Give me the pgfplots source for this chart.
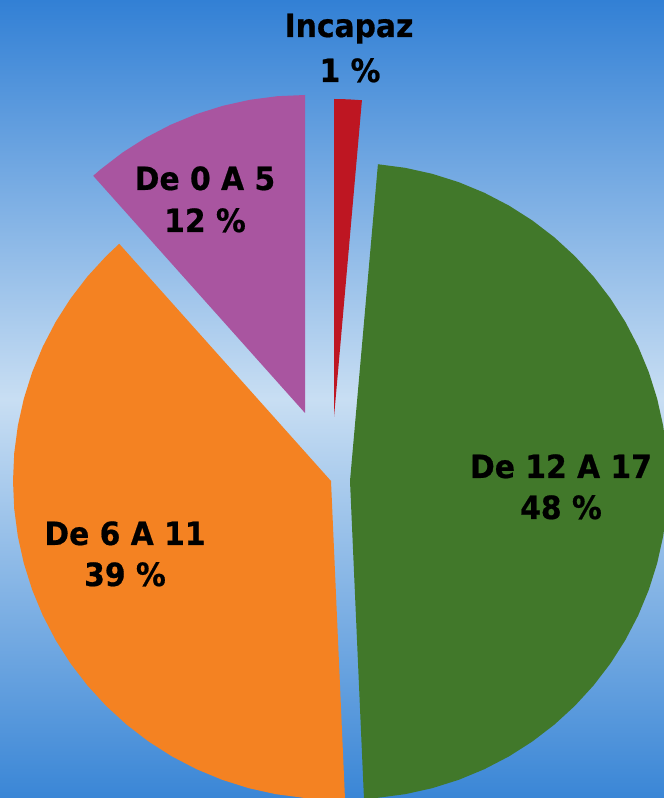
\documentclass[border=0pt]{standalone}
\usepackage{pgfplots}
\pgfplotsset{compat=1.18}
\usepackage{fontspec}
\setmainfont{DejaVu Sans}
\newfontfamily\lab[FakeStretch=0.93,FakeBold=0.6]{DejaVu Sans Bold}
\definecolor{cRed}{RGB}{190,22,34}
\definecolor{cGreen}{RGB}{65,120,42}
\definecolor{cOrange}{RGB}{244,130,34}
\definecolor{cPurple}{RGB}{169,85,160}
\definecolor{bgTop}{RGB}{50,128,213}
\definecolor{bgMid}{RGB}{200,222,243}
\definecolor{bgBot}{RGB}{58,134,214}
\begin{document}
\begin{tikzpicture}
\begin{axis}[
  x=1pt, y=1pt,
  xmin=-331, xmax=333, ymin=-317, ymax=481,
  axis lines=none, ticks=none,
  data cs=polar,
  axis background/.style={shade, top color=bgTop, bottom color=bgBot, middle color=bgMid},
  clip=true,
]
% Incapaz 1.4 %  (90 -> 84.96 deg)
\addplot[fill=cRed, draw=none, xshift=3pt, yshift=64pt] coordinates {
 (0,0) (90,318) (87.5,318) (84.96,318) (0,0)};
% De 12 A 17 47.9 %  (84.96 -> -87.48 deg)
\addplot[fill=cGreen, draw=none, xshift=19pt] coordinates {
 (0,0) (84.96,318) (80,318) (75,318) (70,318) (65,318) (60,318) (55,318) (50,318)
 (45,318) (40,318) (35,318) (30,318) (25,318) (20,318) (15,318) (10,318) (5,318)
 (0,318) (-5,318) (-10,318) (-15,318) (-20,318) (-25,318) (-30,318) (-35,318)
 (-40,318) (-45,318) (-50,318) (-55,318) (-60,318) (-65,318) (-70,318) (-75,318)
 (-80,318) (-85,318) (-87.48,318) (0,0)};
% De 6 A 11 39.1 %  (-87.48 -> -228.24 deg)
\addplot[fill=cOrange, draw=none] coordinates {
 (0,0) (-87.48,318) (-90,318) (-95,318) (-100,318) (-105,318) (-110,318) (-115,318)
 (-120,318) (-125,318) (-130,318) (-135,318) (-140,318) (-145,318) (-150,318)
 (-155,318) (-160,318) (-165,318) (-170,318) (-175,318) (-180,318) (-185,318)
 (-190,318) (-195,318) (-200,318) (-205,318) (-210,318) (-215,318) (-220,318)
 (-225,318) (-228.24,318) (0,0)};
% De 0 A 5 11.6 %  (131.76 -> 90 deg)
\addplot[fill=cPurple, draw=none, xshift=-26pt, yshift=68pt] coordinates {
 (0,0) (131.76,318) (130,318) (125,318) (120,318) (115,318) (110,318) (105,318)
 (100,318) (95,318) (90,318) (0,0)};
\end{axis}
\begin{scope}[font=\lab\fontsize{32}{42}\selectfont]
\node[anchor=base] at (349pt,761pt) {Incapaz};
\node[anchor=base] at (350pt,716pt) {1 \%};
\node[anchor=base] at (561pt,320pt) {De 12 A 17};
\node[anchor=base] at (561pt,279pt) {48 \%};
\node[anchor=base] at (125pt,253pt) {De 6 A 11};
\node[anchor=base] at (125pt,212pt) {39 \%};
\node[anchor=base] at (205pt,608pt) {De 0 A 5};
\node[anchor=base] at (205pt,566pt) {12 \%};
\end{scope}
\end{tikzpicture}
\end{document}
